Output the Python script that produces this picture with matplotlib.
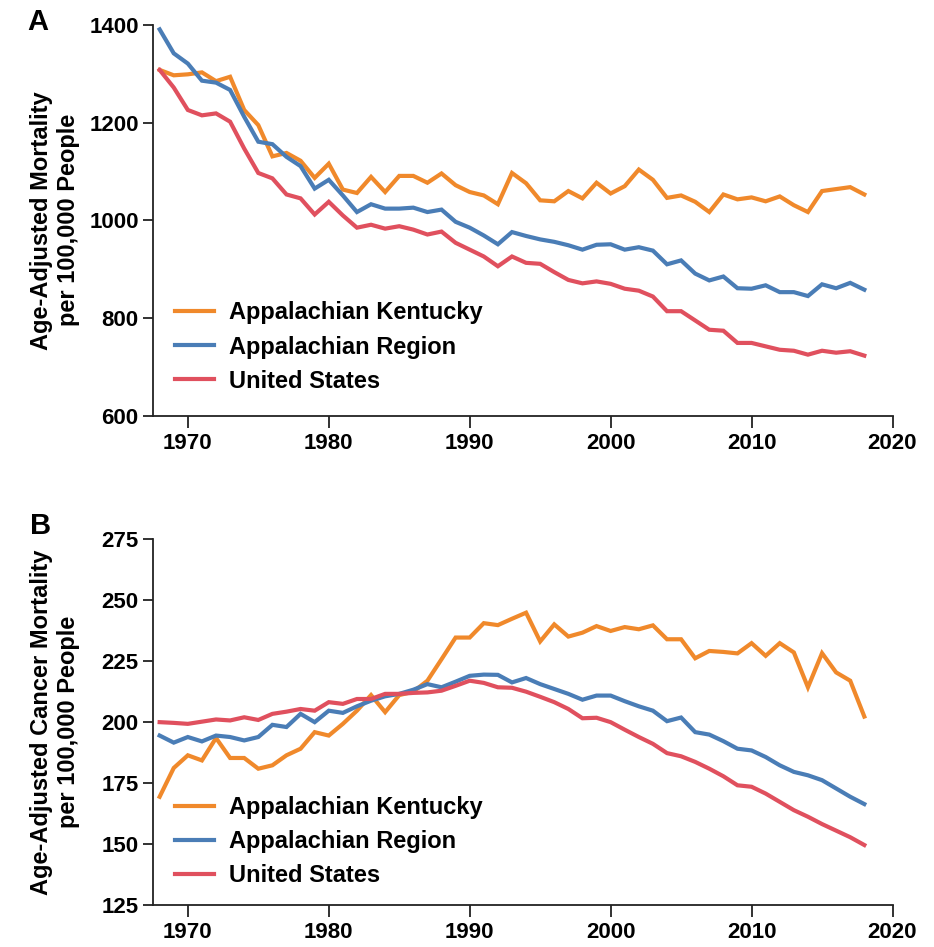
import matplotlib
matplotlib.use("Agg")
import matplotlib.pyplot as plt

plt.rcParams["font.family"] = ["Liberation Sans", "DejaVu Sans"]
plt.rcParams["font.weight"] = "bold"

# --- data --------------------------------------------------------------------
years = list(range(1968, 2019))
series_names = ["Appalachian Kentucky", "Appalachian Region", "United States"]
colors = ["#F0892B", "#4A7DB6", "#E0505E"]

# panel A: all-cause age-adjusted mortality
ky_all = [1308, 1297, 1299, 1303, 1285, 1294, 1226, 1195, 1131, 1138,
          1122, 1087, 1116, 1063, 1056, 1089, 1058, 1091, 1091, 1077,
          1096, 1072, 1058, 1051, 1033, 1097, 1076, 1041, 1039, 1060,
          1045, 1077, 1055, 1070, 1104, 1083, 1046, 1051, 1038, 1017,
          1053, 1043, 1047, 1039, 1049, 1031, 1017, 1060, 1064, 1068, 1053]
app_all = [1391, 1342, 1321, 1286, 1282, 1267, 1212, 1161, 1156, 1130,
           1111, 1065, 1083, 1051, 1017, 1033, 1024, 1024, 1026, 1017,
           1022, 997, 985, 969, 951, 976, 968, 961, 956, 949,
           940, 950, 951, 940, 945, 938, 910, 918, 891, 877,
           885, 861, 860, 867, 853, 853, 845, 869, 861, 872, 858]
us_all = [1308, 1272, 1226, 1215, 1219, 1202, 1147, 1097, 1086, 1053,
          1045, 1012, 1038, 1010, 985, 991, 983, 988, 981, 971,
          977, 954, 940, 926, 906, 926, 913, 911, 894, 878,
          871, 875, 870, 860, 856, 844, 814, 814, 795, 776,
          774, 749, 749, 742, 735, 733, 725, 733, 729, 732, 723]

# panel B: cancer age-adjusted mortality
ky_cancer = [169.4, 181.2, 186.4, 184.3, 193.5, 185.3, 185.3, 180.9, 182.3, 186.4,
             189.1, 195.9, 194.5, 199.3, 204.7, 211.1, 204.1, 211.1, 212.5, 217.0,
             225.8, 234.7, 234.7, 240.6, 239.8, 242.4, 244.9, 233.1, 240.1, 235.1,
             236.7, 239.4, 237.4, 239.0, 238.1, 239.7, 234.0, 234.0, 226.2, 229.2,
             228.8, 228.2, 232.4, 227.2, 232.4, 228.6, 214.3, 228.3, 220.4, 217.0, 202.3]
app_cancer = [194.5, 191.6, 193.9, 192.1, 194.5, 193.9, 192.5, 193.9, 198.9, 198.0,
              203.4, 200.0, 204.7, 203.8, 206.5, 208.8, 210.6, 211.6, 213.3, 215.6,
              214.3, 216.6, 219.0, 219.5, 219.4, 216.3, 218.1, 215.6, 213.6, 211.6,
              209.2, 210.9, 210.9, 208.6, 206.5, 204.7, 200.4, 201.9, 195.9, 194.9,
              192.2, 189.1, 188.4, 185.7, 182.3, 179.6, 178.2, 176.2, 172.8, 169.4, 166.4]
us_cancer = [200.0, 199.7, 199.3, 200.2, 201.1, 200.7, 202.0, 200.9, 203.4, 204.3,
             205.4, 204.7, 208.2, 207.5, 209.5, 209.5, 211.6, 211.6, 212.0, 212.2,
             212.9, 214.9, 217.0, 216.1, 214.3, 214.1, 212.5, 210.4, 208.2, 205.4,
             201.6, 201.8, 200.0, 196.9, 193.9, 191.1, 187.3, 186.0, 183.7, 180.9,
             177.8, 174.1, 173.5, 170.7, 167.3, 163.9, 161.2, 158.2, 155.5, 152.8, 149.6]

xticks = [1970, 1980, 1990, 2000, 2010, 2020]
yticks_a = [600, 800, 1000, 1200, 1400]
yticks_b = [125, 150, 175, 200, 225, 250, 275]

# --- figure ------------------------------------------------------------------
W, H = 934, 947
fig = plt.figure(figsize=(W / 100, H / 100), dpi=100)
ax_a = fig.add_axes([153.3 / W, 1 - 415.7 / H, 739.2 / W, 390.7 / H])
ax_b = fig.add_axes([153.3 / W, 1 - 905 / H, 739.2 / W, 365.7 / H])

panels = [
    (ax_a, [ky_all, app_all, us_all], yticks_a,
     "Age-Adjusted Mortality\nper 100,000 People", 0.2923),
    (ax_b, [ky_cancer, app_cancer, us_cancer], yticks_b,
     "Age-Adjusted Cancer Mortality\nper 100,000 People", 0.2985),
]

for ax, data, yt, ylab, leg_y in panels:
    for vals, name, col in zip(data, series_names, colors):
        ax.plot(years, vals, color=col, lw=3.0, label=name, solid_joinstyle="miter")
    ax.set_xlim(1967.55, 2020)
    ax.set_ylim(yt[0], yt[-1])
    ax.set_xticks(xticks)
    ax.set_yticks(yt)
    for s in ["top", "right"]:
        ax.spines[s].set_visible(False)
    for s in ["left", "bottom"]:
        ax.spines[s].set_linewidth(1.3)
        ax.spines[s].set_color("#222222")
    ax.tick_params(axis="x", length=8.5, width=1.3, pad=4, labelsize=16, color="#222222")
    ax.tick_params(axis="y", length=7, width=1.3, pad=3.5, labelsize=16, color="#222222")
    ax.set_ylabel(ylab, fontsize=17, fontweight="bold", linespacing=1.25)
    ax.yaxis.set_label_coords(-0.099, 0.5)
    ax.legend(loc="upper left", bbox_to_anchor=(0.0294, leg_y), frameon=False,
              fontsize=17, borderpad=0, borderaxespad=0, handlelength=1.65,
              handletextpad=0.64, labelspacing=0.47)

fig.text(38 / W, 1 - 22 / H, "A", fontsize=21, fontweight="bold", ha="center", va="center")
fig.text(41 / W, 1 - 526 / H, "B", fontsize=21, fontweight="bold", ha="center", va="center")

fig.savefig("out.png", dpi=100)
